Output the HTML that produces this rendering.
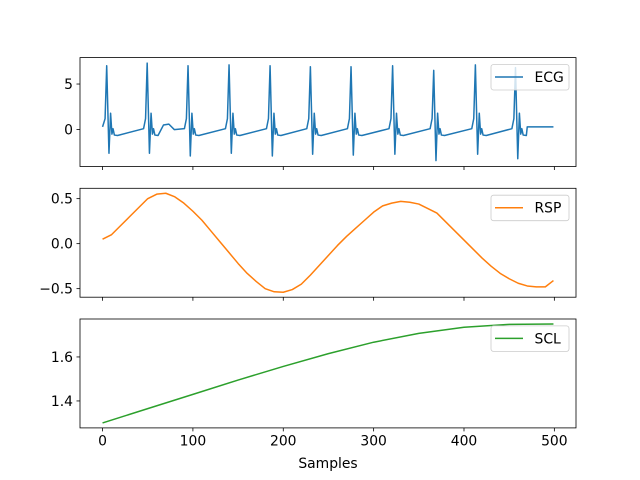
<!DOCTYPE html>
<html><head><meta charset="utf-8">
<style>
html,body{margin:0;padding:0;background:#fff;}
svg{display:block;font-family:"DejaVu Sans","Liberation Sans",sans-serif;}
</style></head>
<body>
<svg id="fig" width="640" height="480" viewBox="0 0 640 480" xmlns="http://www.w3.org/2000/svg">
<rect width="640" height="480" fill="#fff"/>
</svg>
<script>
// ---- data ----
const xTicks = [0, 100, 200, 300, 400, 500];
const ecgBeatSamples = [4.6, 49.4, 94.6, 140, 185.4, 230, 275, 321, 366.5, 412.6, 457];
const ecgBeatPeaks = [7.0, 7.3, 7.0, 7.1, 7.0, 6.9, 6.9, 7.0, 6.5, 7.1, 6.8];
const ecgBeatTroughs = [-2.6, -2.6, -2.9, -2.6, -2.9, -2.7, -2.8, -2.7, -3.4, -2.7, -3.2];
const ecgYTicks = [0, 5];
const rspSamples = [0,10,20,30,40,50,60,70,80,90,100,110,120,130,140,150,160,170,180,190,200,210,220,230,240,250,260,270,280,290,300,310,320,330,340,350,360,370,380,390,400,410,420,430,440,450,460,470,480,490,499];
const rspValues = [0.05,0.1,0.2,0.3,0.4,0.5,0.55,0.56,0.52,0.45,0.36,0.26,0.14,0.02,-0.1,-0.22,-0.33,-0.42,-0.5,-0.535,-0.54,-0.51,-0.45,-0.35,-0.24,-0.13,-0.02,0.08,0.17,0.26,0.35,0.42,0.45,0.47,0.46,0.44,0.39,0.34,0.24,0.14,0.04,-0.06,-0.16,-0.25,-0.33,-0.39,-0.44,-0.47,-0.48,-0.48,-0.41];
const rspYTicks = [-0.5, 0, 0.5];
const sclSamples = [0,50,100,150,200,250,300,350,400,450,499];
const sclValues = [1.30,1.365,1.43,1.495,1.557,1.615,1.667,1.707,1.735,1.748,1.75];
const sclYTicks = [1.4, 1.6];

// ---- layout ----
const NS = "http://www.w3.org/2000/svg";
const svg = document.getElementById('fig');
const L = 80, R = 576;
const xMin = -24.95, xMax = 523.95;
const FS = 13.9;
const xs = v => L + (v - xMin) / (xMax - xMin) * (R - L);
function el(tag, attrs, parent) {
  const e = document.createElementNS(NS, tag);
  for (const k in attrs) e.setAttribute(k, attrs[k]);
  (parent || svg).appendChild(e);
  return e;
}
function ecgPoints() {
  const pts = [[0, 0.3]];
  for (let i = 0; i < ecgBeatSamples.length; i++) {
    const s = ecgBeatSamples[i], p = ecgBeatPeaks[i], t = ecgBeatTroughs[i];
    if (i > 0) pts.push([s - 4, 0.1]);
    pts.push([s - 1.8, 1.2], [s, p], [s + 2.5, t], [s + 4.3, 1.8], [s + 5.8, -0.5], [s + 7, 0.1], [s + 8.5, -0.6], [s + 12, -0.65]);
    if (i === 1) pts.push([s + 18, 0.5], [s + 24, 0.6], [s + 30, 0.0]);
  }
  pts.push([470, 0.3], [499, 0.3]);
  return pts;
}
const panels = [
  {name:'ecg', top:57.6, bot:166.5, yMin:-4.05, yMax:7.9, ticks:ecgYTicks, fmt:v=>String(v), color:'#1f77b4', label:'ECG',
   pts: ecgPoints(), legendY:64.5},
  {name:'rsp', top:188.3, bot:297.2, yMin:-0.595, yMax:0.615, ticks:rspYTicks, fmt:v=>v.toFixed(1).replace('-','−'), color:'#ff7f0e', label:'RSP',
   pts: rspSamples.map((s,i)=>[s, rspValues[i]]), legendY:195.2},
  {name:'scl', top:319.0, bot:427.9, yMin:1.2775, yMax:1.7725, ticks:sclYTicks, fmt:v=>v.toFixed(1), color:'#2ca02c', label:'SCL',
   pts: sclSamples.map((s,i)=>[s, sclValues[i]]), legendY:325.9}
];
panels.forEach((p, idx) => {
  const g = el('g', {});
  
  
  const ys = v => p.bot - (v - p.yMin) / (p.yMax - p.yMin) * (p.bot - p.top);
  const d = p.pts.map((q, i) => (i ? 'L' : 'M') + xs(q[0]).toFixed(2) + ' ' + ys(q[1]).toFixed(2)).join(' ');
  const clip = el('clipPath', {id: 'c' + idx}, g);
  el('rect', {x: L, y: p.top, width: R - L, height: p.bot - p.top}, clip);
  const line = el('path', {d, fill:'none', stroke:p.color, 'stroke-width':1.5, 'stroke-linejoin':'round', 'clip-path':'url(#c'+idx+')'}, g);
  
  
  xTicks.forEach(t => {
    const x = xs(t);
    el('line', {x1:x, x2:x, y1:p.bot, y2:p.bot + 3.5, stroke:'#000', 'stroke-width':0.8}, g);
    if (idx === 2) {
      const tx = el('text', {x, y:p.bot + 17.5, 'font-size':FS, 'text-anchor':'middle', fill:'#000'}, g);
      tx.textContent = t;
      
      
    }
  });
  p.ticks.forEach(t => {
    const y = ys(t);
    el('line', {x1:L - 3.5, x2:L, y1:y, y2:y, stroke:'#000', 'stroke-width':0.8}, g);
    const tx = el('text', {x:L - 7, y:y + 5, 'font-size':FS, 'text-anchor':'end', fill:'#000'}, g);
    tx.textContent = p.fmt(t);
    
    
  });
  el('rect', {x:L, y:p.top, width:R - L, height:p.bot - p.top, fill:'none', stroke:'#000', 'stroke-width':0.8}, g);
  const lg = el('g', {}, g);
  
  
  el('rect', {x:491, y:p.legendY, width:78, height:25.5, rx:2.5, fill:'#fff', 'fill-opacity':0.8, stroke:'#ccc', 'stroke-width':0.8}, lg);
  el('line', {x1:495, x2:523, y1:p.legendY + 12.5, y2:p.legendY + 12.5, stroke:p.color, 'stroke-width':1.5}, lg);
  const lt = el('text', {x:534.5, y:p.legendY + 17.5, 'font-size':FS, fill:'#000'}, lg);
  lt.textContent = p.label;
});
const xl = el('text', {x:328, y:468, 'font-size':FS, 'text-anchor':'middle', fill:'#000'});
xl.textContent = 'Samples';


</script>
</body></html>
